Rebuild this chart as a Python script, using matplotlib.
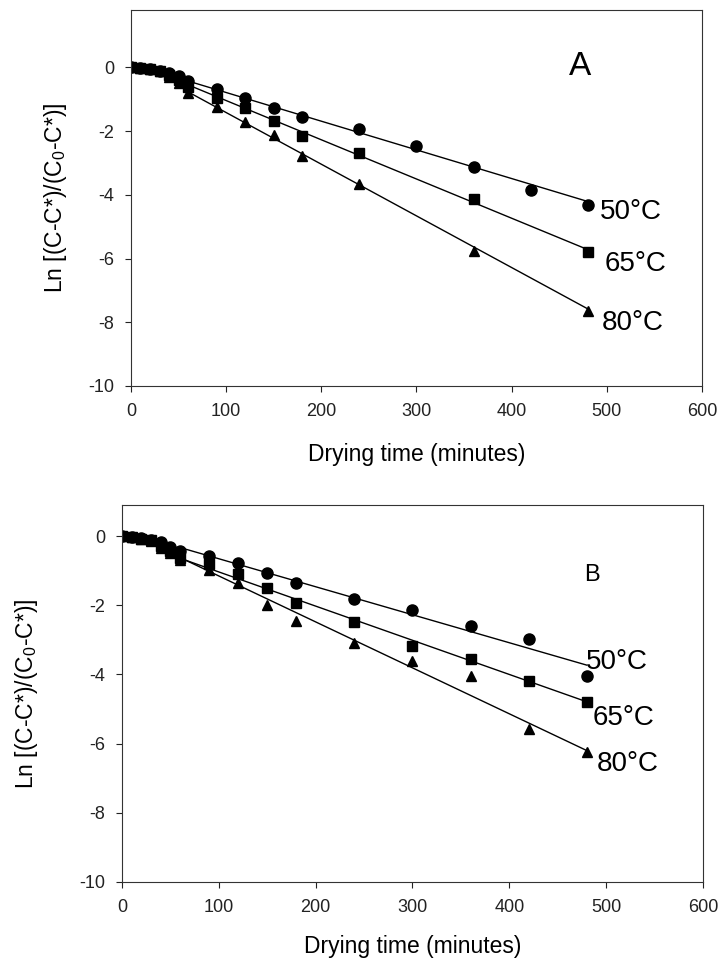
import matplotlib
matplotlib.use('Agg')
import matplotlib.pyplot as plt

plt.rcParams['font.family'] = ['Liberation Sans', 'DejaVu Sans']
plt.rcParams['mathtext.fontset'] = 'custom'
plt.rcParams['mathtext.rm'] = 'Liberation Sans'
plt.rcParams['mathtext.it'] = 'Liberation Sans:italic'
plt.rcParams['axes.unicode_minus'] = False

# panel A
t_a_50 = [0, 10, 20, 30, 40, 50, 60, 90, 120, 150, 180, 240, 300, 360, 420, 480]
y_a_50 = [0, -0.02, -0.06, -0.12, -0.18, -0.28, -0.44, -0.68, -0.96, -1.29, -1.56, -1.95, -2.47, -3.13, -3.84, -4.32]
t_a_hi = [0, 10, 20, 30, 40, 50, 60, 90, 120, 150, 180, 240, 360, 480]
y_a_65 = [0, -0.02, -0.06, -0.12, -0.25, -0.4, -0.62, -0.96, -1.27, -1.69, -2.15, -2.69, -4.13, -5.81]
y_a_80 = [0, -0.02, -0.06, -0.13, -0.3, -0.5, -0.8, -1.24, -1.71, -2.13, -2.77, -3.66, -5.76, -7.65]

# panel B
t_b = [0, 10, 20, 30, 40, 50, 60, 90, 120, 150, 180, 240, 300, 360, 420, 480]
y_b_50 = [0, -0.03, -0.06, -0.1, -0.18, -0.3, -0.42, -0.56, -0.77, -1.06, -1.36, -1.81, -2.15, -2.6, -2.98, -4.04]
y_b_65 = [0, -0.03, -0.07, -0.12, -0.28, -0.42, -0.62, -0.8, -1.09, -1.5, -1.94, -2.49, -3.17, -3.56, -4.19, -4.79]
y_b_80 = [0, -0.03, -0.07, -0.13, -0.35, -0.5, -0.7, -0.98, -1.35, -2.0, -2.44, -3.08, -3.6, -4.03, -5.58, -6.23]

# straight fitted lines (end points, from 60 to 480 min)
fit_t = [60, 480]
fit_a_50 = [-0.43, -4.21]
fit_a_65 = [-0.55, -5.72]
fit_a_80 = [-0.77, -7.58]
fit_b_50 = [-0.33, -3.73]
fit_b_65 = [-0.64, -4.79]
fit_b_80 = [-0.62, -6.2]

temps = ['50°C', '65°C', '80°C']
xticks = [0, 100, 200, 300, 400, 500, 600]
yticks = [0, -2, -4, -6, -8, -10]
ylab = r'Ln [(C-C*)/(C$_\mathrm{0}$-C*)]'

fig = plt.figure(figsize=(7.24, 9.59), dpi=100)
axA = fig.add_axes([0.1809, 0.5975, 0.7887, 0.3921])
axB = fig.add_axes([0.1685, 0.0803, 0.8025, 0.3931])

mk = dict(color='black', linestyle='none')
ln = dict(color='black', linewidth=1.0)

panels = [
    (axA, t_a_50, t_a_hi, y_a_50, y_a_65, y_a_80, fit_a_50, fit_a_65, fit_a_80),
    (axB, t_b, t_b, y_b_50, y_b_65, y_b_80, fit_b_50, fit_b_65, fit_b_80),
]
for ax, t50, thi, y50, y65, y80, f50, f65, f80 in panels:
    ax.plot(fit_t, f50, **ln)
    ax.plot(fit_t, f65, **ln)
    ax.plot(fit_t, f80, **ln)
    ax.plot(thi, y80, marker='^', markersize=7.5, **mk)
    ax.plot(thi, y65, marker='s', markersize=6.8, **mk)
    ax.plot(t50, y50, marker='o', markersize=8, **mk)

for ax, top in ((axA, 1.8), (axB, 0.9)):
    ax.set_xlim(0, 600)
    ax.set_ylim(-10, top)
    ax.set_xticks(xticks)
    ax.set_yticks(yticks)
    ax.tick_params(direction='out', length=4, width=0.8, labelsize=13, pad=8, colors='#222222')
    for s in ax.spines.values():
        s.set_linewidth(0.8)
        s.set_color('#333333')
    ax.set_xlabel('Drying time (minutes)', fontsize=16.5)
    ax.set_ylabel(ylab, fontsize=16.5)
    ax.xaxis.label.set_va('center')
    ax.yaxis.label.set_va('center')

axA.xaxis.set_label_coords(0.5, -0.1835)
axA.yaxis.set_label_coords(-0.133, 0.5)
axB.xaxis.set_label_coords(0.5, -0.172)
axB.yaxis.set_label_coords(-0.1635, 0.5)

axA.text(472, 0.03, 'A', fontsize=24, ha='center', va='center')
axA.text(493, -4.54, temps[0], fontsize=20, va='center')
axA.text(498, -6.18, temps[1], fontsize=20, va='center')
axA.text(495, -8.01, temps[2], fontsize=20, va='center')

axB.text(485, -1.13, 'B', fontsize=17, ha='center', va='center')
axB.text(479, -3.63, temps[0], fontsize=20, va='center')
axB.text(486, -5.26, temps[1], fontsize=20, va='center')
axB.text(490, -6.59, temps[2], fontsize=20, va='center')

fig.savefig('out.png', dpi=100)
